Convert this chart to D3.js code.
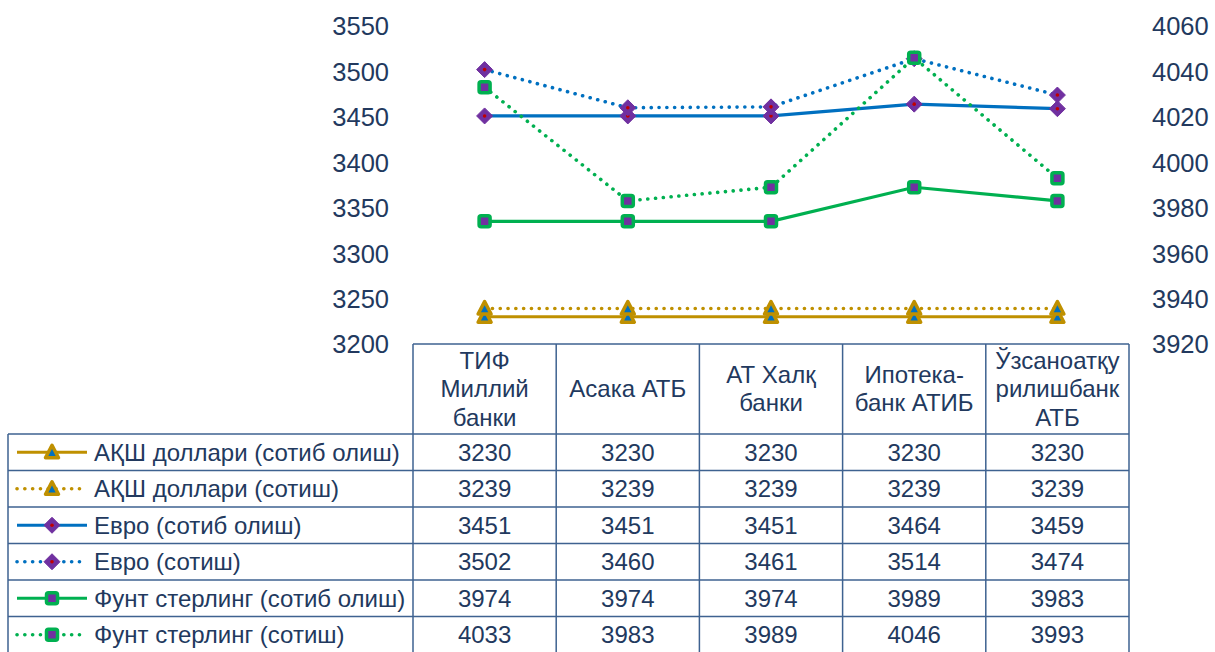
<!DOCTYPE html>
<html>
<head>
<meta charset="utf-8">
<script src="https://cdn.jsdelivr.net/npm/d3@7"></script>
<style>
  body { margin: 0; background: #fff; }
  svg text { font-family: "Liberation Sans", Arial, sans-serif; fill: #22395E; }
</style>
</head>
<body>
<svg id="chart" width="1215" height="652"></svg>
<script>
// banks (header lines)
var categories = [
    ['ТИФ', 'Миллий', 'банки'],
    ['Асака АТБ'],
    ['АТ Халқ', 'банки'],
    ['Ипотека-', 'банк АТИБ'],
    ['Ўзсаноатқу', 'рилишбанк', 'АТБ']
];
var seriesNames = [
    'АҚШ доллари (сотиб олиш)',
    'АҚШ доллари (сотиш)',
    'Евро (сотиб олиш)',
    'Евро (сотиш)',
    'Фунт стерлинг (сотиб олиш)',
    'Фунт стерлинг (сотиш)'
];
var usdBuy = [3230, 3230, 3230, 3230, 3230];
var usdSell = [3239, 3239, 3239, 3239, 3239];
var eurBuy = [3451, 3451, 3451, 3464, 3459];
var eurSell = [3502, 3460, 3461, 3514, 3474];
var gbpBuy = [3974, 3974, 3974, 3989, 3983];
var gbpSell = [4033, 3983, 3989, 4046, 3993];
var leftTicks = [3200, 3250, 3300, 3350, 3400, 3450, 3500, 3550];
var rightTicks = [3920, 3940, 3960, 3980, 4000, 4020, 4040, 4060];

var series = [
    {name: seriesNames[0], values: usdBuy, axis: 'left', line: '#BF9000', dash: false, marker: 'tri'},
    {name: seriesNames[1], values: usdSell, axis: 'left', line: '#BF9000', dash: true, marker: 'tri'},
    {name: seriesNames[2], values: eurBuy, axis: 'left', line: '#0070C0', dash: false, marker: 'dia'},
    {name: seriesNames[3], values: eurSell, axis: 'left', line: '#0070C0', dash: true, marker: 'dia'},
    {name: seriesNames[4], values: gbpBuy, axis: 'right', line: '#00B050', dash: false, marker: 'sq'},
    {name: seriesNames[5], values: gbpSell, axis: 'right', line: '#00B050', dash: true, marker: 'sq'}
];

var svg = d3.select('#chart'),
    plot = {left: 413, right: 1129, top: 26, bottom: 344},
    legendLeft = 8,
    headerBottom = 434,
    rowH = 36.5,
    border = '#3E6290',
    fs = 24;

var x = d3.scaleBand().domain(d3.range(categories.length)).range([plot.left, plot.right]);
var yL = d3.scaleLinear().domain([3200, 3550]).range([plot.bottom, plot.top]);
var yR = d3.scaleLinear().domain([3920, 4060]).range([plot.bottom, plot.top]);

// axes (labels only)
var axL = svg.append('g')
    .attr('transform', 'translate(' + (plot.left - 24) + ',0)')
    .call(d3.axisLeft(yL).tickValues(leftTicks).tickFormat(d3.format('d')).tickSize(0).tickPadding(0));
var axR = svg.append('g')
    .attr('transform', 'translate(' + (plot.right + 23) + ',0)')
    .call(d3.axisRight(yR).tickValues(rightTicks).tickFormat(d3.format('d')).tickSize(0).tickPadding(0));
[axL, axR].forEach(function (a) {
    a.select('.domain').remove();
    a.selectAll('text')
        .attr('font-size', 25.5)
        .attr('dy', '0.35em')
        .attr('font-family', '"Liberation Sans", Arial, sans-serif')
        .attr('fill', '#22395E');
});

// table grid
var grid = svg.append('g').attr('stroke', border).attr('stroke-width', 1.5).attr('fill', 'none');
var nRows = series.length;
var tableBottom = headerBottom + rowH * nRows;
x.domain().concat([categories.length]).forEach(function (i) {
    var xx = i < categories.length ? x(i) : plot.right;
    grid.append('line').attr('x1', xx).attr('x2', xx).attr('y1', plot.bottom).attr('y2', tableBottom);
});
grid.append('line').attr('x1', legendLeft).attr('x2', legendLeft).attr('y1', headerBottom).attr('y2', tableBottom);
grid.append('line').attr('x1', plot.left).attr('x2', plot.right).attr('y1', plot.bottom).attr('y2', plot.bottom);
d3.range(nRows + 1).forEach(function (r) {
    var yy = headerBottom + r * rowH;
    grid.append('line').attr('x1', legendLeft).attr('x2', plot.right).attr('y1', yy).attr('y2', yy);
});

// header labels
categories.forEach(function (lines, i) {
    var cx = x(i) + x.bandwidth() / 2,
        cy = (plot.bottom + headerBottom) / 2,
        lh = 28.5,
        t = svg.append('text').attr('text-anchor', 'middle').attr('font-size', fs);
    lines.forEach(function (l, k) {
        t.append('tspan').attr('x', cx)
            .attr('y', cy + (k - (lines.length - 1) / 2) * lh + 8)
            .text(l);
    });
});

function drawMarker(g, type, cx, cy) {
    if (type === 'tri') {
        g.append('path')
            .attr('d', 'M' + cx + ',' + (cy - 7) + 'L' + (cx + 6.5) + ',' + (cy + 5.5) + 'L' + (cx - 6.5) + ',' + (cy + 5.5) + 'Z')
            .attr('fill', '#0070C0').attr('stroke', '#BF9000').attr('stroke-width', 3.5)
            .attr('stroke-linejoin', 'round');
    } else if (type === 'dia') {
        g.append('path')
            .attr('d', 'M' + cx + ',' + (cy - 8) + 'L' + (cx + 8) + ',' + cy + 'L' + cx + ',' + (cy + 8) + 'L' + (cx - 8) + ',' + cy + 'Z')
            .attr('fill', '#7030A0').attr('stroke', '#7030A0').attr('stroke-width', 1);
        g.append('circle').attr('cx', cx).attr('cy', cy).attr('r', 1.8).attr('fill', '#C00000');
    } else {
        g.append('rect').attr('x', cx - 5.5).attr('y', cy - 5.5).attr('width', 11).attr('height', 11)
            .attr('rx', 2).attr('fill', '#7030A0').attr('stroke', '#00B050').attr('stroke-width', 3.5);
    }
}

function styleLine(p, s) {
    p.attr('fill', 'none').attr('stroke', s.line).attr('stroke-width', 3.2);
    if (s.dash) p.attr('stroke-dasharray', '0.1 7.7').attr('stroke-linecap', 'round').attr('stroke-width', 3.6);
}

// series lines, then markers on top
series.forEach(function (s) {
    var y = s.axis === 'left' ? yL : yR;
    var line = d3.line()
        .x(function (d, i) { return x(i) + x.bandwidth() / 2; })
        .y(function (d) { return y(d); });
    styleLine(svg.append('path').datum(s.values).attr('d', line), s);
});
series.forEach(function (s) {
    var y = s.axis === 'left' ? yL : yR;
    var g = svg.append('g');
    s.values.forEach(function (v, i) {
        drawMarker(g, s.marker, x(i) + x.bandwidth() / 2, y(v));
    });
});

// table rows: legend key + values
series.forEach(function (s, r) {
    var cy = headerBottom + r * rowH + rowH / 2;
    var g = svg.append('g');
    var lp = g.append('path').attr('d', 'M17,' + cy + 'L87,' + cy);
    styleLine(lp, s);
    drawMarker(g, s.marker, 52, cy);
    svg.append('text').attr('x', 94).attr('y', cy + 8.5).attr('font-size', fs).text(s.name);
    s.values.forEach(function (v, i) {
        svg.append('text').attr('x', x(i) + x.bandwidth() / 2).attr('y', cy + 8.5)
            .attr('text-anchor', 'middle').attr('font-size', fs).text(v);
    });
});
</script>
</body>
</html>
